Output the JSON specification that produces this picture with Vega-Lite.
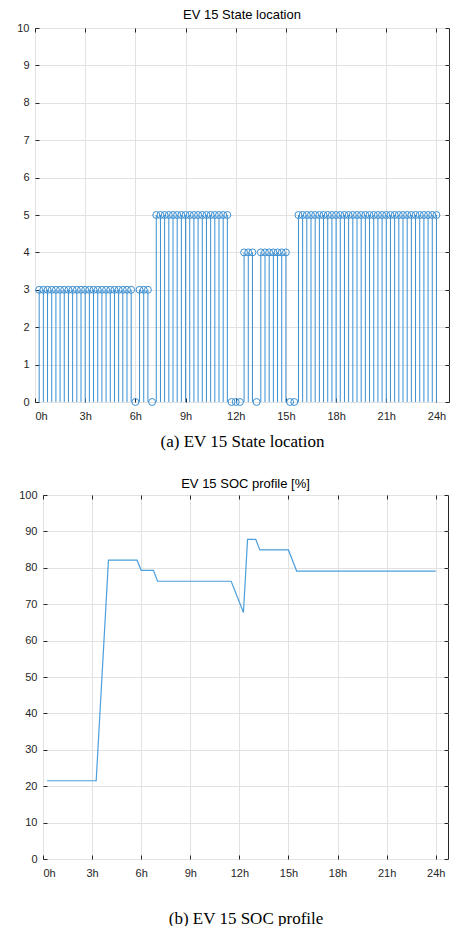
{
  "$schema": "https://vega.github.io/schema/vega-lite/v6.json",
  "background": "white",
  "padding": {"left": 4, "top": 8, "right": 2, "bottom": 0},
  "spacing": 27,
  "config": {
    "view": {"stroke": "#262626", "strokeWidth": 1},
    "axis": {
      "labelFont": "Liberation Sans",
      "labelFontSize": 11,
      "labelColor": "#262626",
      "domain": false,
      "grid": true,
      "gridColor": "#e2e2e2",
      "tickColor": "#262626",
      "tickSize": -4,
      "titleFont": "Liberation Serif",
      "titleFontSize": 17,
      "titleFontWeight": "normal",
      "titleColor": "#000000"
    },
    "axisX": {"labelPadding": 12},
    "axisY": {"labelPadding": 10},
    "title": {"font": "Liberation Sans", "fontSize": 13, "fontWeight": "normal", "color": "#000000", "offset": 0}
  },
  "datasets": {
    "state": [
      {"t": 0.25, "v": 3}, {"t": 0.5, "v": 3}, {"t": 0.75, "v": 3}, {"t": 1, "v": 3}, {"t": 1.25, "v": 3}, {"t": 1.5, "v": 3}, {"t": 1.75, "v": 3}, {"t": 2, "v": 3}, {"t": 2.25, "v": 3}, {"t": 2.5, "v": 3}, {"t": 2.75, "v": 3}, {"t": 3, "v": 3}, {"t": 3.25, "v": 3}, {"t": 3.5, "v": 3}, {"t": 3.75, "v": 3}, {"t": 4, "v": 3}, {"t": 4.25, "v": 3}, {"t": 4.5, "v": 3}, {"t": 4.75, "v": 3}, {"t": 5, "v": 3}, {"t": 5.25, "v": 3}, {"t": 5.5, "v": 3}, {"t": 5.75, "v": 3},
      {"t": 6, "v": 0},
      {"t": 6.25, "v": 3}, {"t": 6.5, "v": 3}, {"t": 6.75, "v": 3},
      {"t": 7, "v": 0},
      {"t": 7.25, "v": 5}, {"t": 7.5, "v": 5}, {"t": 7.75, "v": 5}, {"t": 8, "v": 5}, {"t": 8.25, "v": 5}, {"t": 8.5, "v": 5}, {"t": 8.75, "v": 5}, {"t": 9, "v": 5}, {"t": 9.25, "v": 5}, {"t": 9.5, "v": 5}, {"t": 9.75, "v": 5}, {"t": 10, "v": 5}, {"t": 10.25, "v": 5}, {"t": 10.5, "v": 5}, {"t": 10.75, "v": 5}, {"t": 11, "v": 5}, {"t": 11.25, "v": 5}, {"t": 11.5, "v": 5},
      {"t": 11.75, "v": 0}, {"t": 12, "v": 0}, {"t": 12.25, "v": 0},
      {"t": 12.5, "v": 4}, {"t": 12.75, "v": 4}, {"t": 13, "v": 4},
      {"t": 13.25, "v": 0},
      {"t": 13.5, "v": 4}, {"t": 13.75, "v": 4}, {"t": 14, "v": 4}, {"t": 14.25, "v": 4}, {"t": 14.5, "v": 4}, {"t": 14.75, "v": 4}, {"t": 15, "v": 4},
      {"t": 15.25, "v": 0}, {"t": 15.5, "v": 0},
      {"t": 15.75, "v": 5}, {"t": 16, "v": 5}, {"t": 16.25, "v": 5}, {"t": 16.5, "v": 5}, {"t": 16.75, "v": 5}, {"t": 17, "v": 5}, {"t": 17.25, "v": 5}, {"t": 17.5, "v": 5}, {"t": 17.75, "v": 5}, {"t": 18, "v": 5}, {"t": 18.25, "v": 5}, {"t": 18.5, "v": 5}, {"t": 18.75, "v": 5}, {"t": 19, "v": 5}, {"t": 19.25, "v": 5}, {"t": 19.5, "v": 5}, {"t": 19.75, "v": 5}, {"t": 20, "v": 5}, {"t": 20.25, "v": 5}, {"t": 20.5, "v": 5}, {"t": 20.75, "v": 5}, {"t": 21, "v": 5}, {"t": 21.25, "v": 5}, {"t": 21.5, "v": 5}, {"t": 21.75, "v": 5}, {"t": 22, "v": 5}, {"t": 22.25, "v": 5}, {"t": 22.5, "v": 5}, {"t": 22.75, "v": 5}, {"t": 23, "v": 5}, {"t": 23.25, "v": 5}, {"t": 23.5, "v": 5}, {"t": 23.75, "v": 5}, {"t": 24, "v": 5}
    ],
    "soc": [
      {"t": 0.25, "soc": 21.5}, {"t": 3.25, "soc": 21.5}, {"t": 4.0, "soc": 82.1}, {"t": 5.75, "soc": 82.1},
      {"t": 6.0, "soc": 79.3}, {"t": 6.75, "soc": 79.3}, {"t": 7.0, "soc": 76.3}, {"t": 11.5, "soc": 76.3},
      {"t": 12.25, "soc": 67.7}, {"t": 12.5, "soc": 87.8}, {"t": 13.0, "soc": 87.8}, {"t": 13.25, "soc": 84.9},
      {"t": 15.0, "soc": 84.9}, {"t": 15.5, "soc": 79.1}, {"t": 24.0, "soc": 79.1}
    ]
  },
  "vconcat": [
    {
      "width": 414,
      "height": 374,
      "title": {"text": "EV 15 State location", "offset": 0},
      "data": {"name": "state"},
      "resolve": {"axis": {"x": "independent", "y": "independent"}},
      "layer": [
        {
          "mark": {"type": "rule", "color": "#3b8fd2", "strokeWidth": 1},
          "encoding": {
            "x": {"field": "t", "type": "quantitative", "scale": {"domain": [0, 24.75], "nice": false, "zero": false},
              "axis": {"values": [0, 3, 6, 9, 12, 15, 18, 21, 24], "labelExpr": "datum.value + 'h'", "title": "(a) EV 15 State location", "titlePadding": 12}},
            "y": {"field": "v", "type": "quantitative", "scale": {"domain": [0, 10], "nice": false},
              "axis": {"values": [0, 1, 2, 3, 4, 5, 6, 7, 8, 9, 10], "title": null, "minExtent": 30, "maxExtent": 30}},
            "y2": {"datum": 0}
          }
        },
        {
          "mark": {"type": "point", "shape": "circle", "filled": false, "color": "#3b8fd2", "size": 48, "strokeWidth": 1, "opacity": 1},
          "encoding": {
            "x": {"field": "t", "type": "quantitative", "axis": null},
            "y": {"field": "v", "type": "quantitative", "axis": null}
          }
        },
        {
          "mark": {"type": "rule", "opacity": 0},
          "encoding": {
            "x": {"field": "t", "type": "quantitative", "axis": {"orient": "top", "values": [0, 3, 6, 9, 12, 15, 18, 21, 24], "labels": false, "grid": false, "title": null, "minExtent": 0, "maxExtent": 0}},
            "y": {"field": "v", "type": "quantitative", "axis": {"orient": "right", "values": [0, 1, 2, 3, 4, 5, 6, 7, 8, 9, 10], "labels": false, "grid": false, "title": null, "minExtent": 0, "maxExtent": 0}}
          }
        }
      ]
    },
    {
      "spacing": -21,
      "hconcat": [
        {
          "width": 1,
          "height": 10,
          "view": {"stroke": null},
          "data": {"values": [{"a": 0}]},
          "mark": {"type": "point", "opacity": 0},
          "encoding": {}
        },
        {
          "width": 405,
          "height": 364,
          "title": {"text": "EV 15 SOC profile [%]", "offset": -2},
          "data": {"name": "soc"},
          "resolve": {"axis": {"x": "independent", "y": "independent"}},
          "layer": [
            {
              "mark": {"type": "line", "color": "#4a9fdc", "strokeWidth": 1.2},
              "encoding": {
                "x": {"field": "t", "type": "quantitative", "scale": {"domain": [0, 24.75], "nice": false, "zero": false},
                  "axis": {"values": [0, 3, 6, 9, 12, 15, 18, 21, 24], "labelExpr": "datum.value + 'h'", "title": "(b) EV 15 SOC profile", "titlePadding": 32}},
                "y": {"field": "soc", "type": "quantitative", "scale": {"domain": [0, 100], "nice": false},
                  "axis": {"values": [0, 10, 20, 30, 40, 50, 60, 70, 80, 90, 100], "title": null, "minExtent": 7, "maxExtent": 7}}
              }
            },
            {
              "mark": {"type": "rule", "opacity": 0},
              "encoding": {
                "x": {"field": "t", "type": "quantitative", "axis": {"orient": "top", "values": [0, 3, 6, 9, 12, 15, 18, 21, 24], "labels": false, "grid": false, "title": null, "minExtent": 0, "maxExtent": 0}},
                "y": {"field": "soc", "type": "quantitative", "axis": {"orient": "right", "values": [0, 10, 20, 30, 40, 50, 60, 70, 80, 90, 100], "labels": false, "grid": false, "title": null, "minExtent": 0, "maxExtent": 0}}
              }
            }
          ]
        }
      ]
    }
  ]
}
